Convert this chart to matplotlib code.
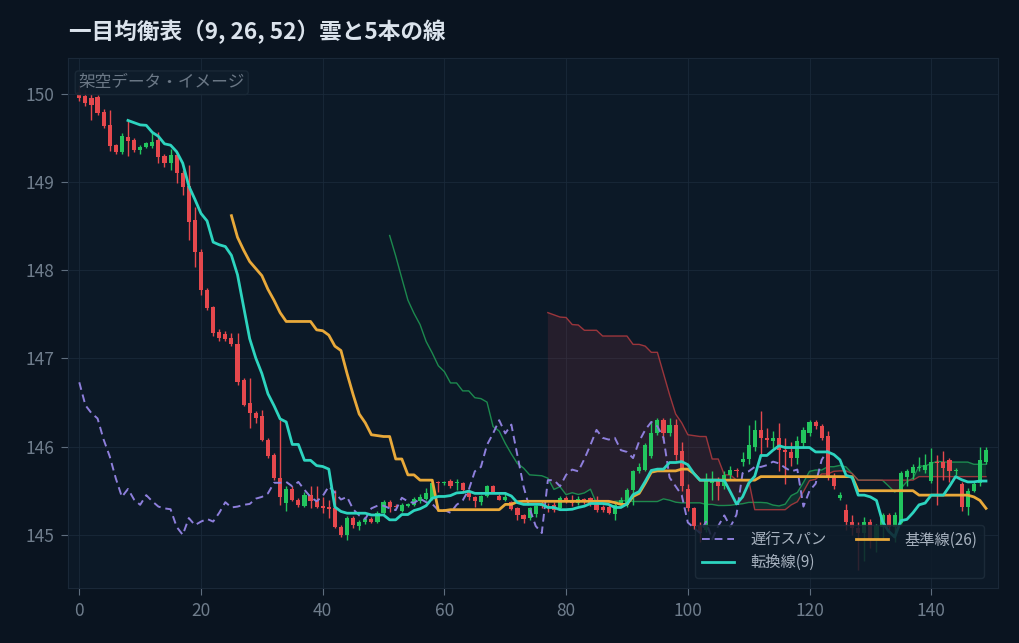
import numpy as np
import pandas as pd
import matplotlib
matplotlib.use('Agg')
import matplotlib.pyplot as plt

plt.rcParams['font.family'] = ['Noto Sans CJK JP', 'DejaVu Sans']

# ---- OHLC (架空データ) ----
opens = [150.02, 149.98, 149.95, 149.97, 149.80, 149.65, 149.42, 149.34, 149.51, 149.48,
         149.36, 149.40, 149.41, 149.48, 149.30, 149.22, 149.31, 149.10, 148.96, 148.57,
         148.21, 147.78, 147.58, 147.30, 147.28, 147.23, 147.17, 146.76, 146.49, 146.38,
         146.35, 146.08, 145.90, 145.64, 145.36, 145.52, 145.40, 145.33, 145.45, 145.40,
         145.33, 145.32, 145.30, 145.09, 145.00, 145.19, 145.10, 145.14, 145.18, 145.14,
         145.25, 145.37, 145.33, 145.27, 145.33, 145.34, 145.38, 145.41, 145.41, 145.60,
         145.59, 145.61, 145.59, 145.59, 145.49, 145.43, 145.37, 145.44, 145.55, 145.44,
         145.40, 145.37, 145.30, 145.23, 145.19, 145.24, 145.36, 145.33, 145.34, 145.30,
         145.42, 145.40, 145.36, 145.41, 145.42, 145.36, 145.32, 145.32, 145.24, 145.34,
         145.34, 145.51, 145.72, 145.74, 145.89, 146.15, 146.30, 146.15, 146.25, 145.95,
         145.52, 145.30, 145.10, 145.05, 145.59, 145.62, 145.55, 145.68, 145.74, 145.83,
         145.86, 146.00, 146.19, 146.10, 146.06, 146.10, 145.96, 145.94, 145.87, 146.04,
         146.15, 146.28, 146.23, 146.12, 145.65, 145.42, 145.28, 145.14, 145.08, 145.02,
         145.15, 144.95, 145.09, 145.22, 145.09, 145.13, 145.66, 145.70, 145.76, 145.74,
         145.61, 145.83, 145.83, 145.85, 145.72, 145.58, 145.32, 145.50, 145.59, 145.83]
highs = [150.10, 150.05, 150.00, 149.99, 149.83, 149.82, 149.43, 149.56, 149.70, 149.50,
         149.42, 149.46, 149.56, 149.57, 149.32, 149.38, 149.34, 149.14, 149.20, 148.72,
         148.24, 147.80, 147.60, 147.33, 147.31, 147.29, 147.29, 146.78, 146.78, 146.40,
         146.42, 146.10, 145.93, 146.30, 145.55, 145.55, 145.42, 145.48, 145.55, 145.55,
         145.43, 145.40, 145.51, 145.11, 145.21, 145.21, 145.17, 145.20, 145.20, 145.27,
         145.40, 145.40, 145.35, 145.36, 145.36, 145.43, 145.46, 145.53, 145.59, 145.61,
         145.61, 145.63, 145.63, 145.60, 145.51, 145.44, 145.45, 145.56, 145.56, 145.46,
         145.49, 145.38, 145.31, 145.24, 145.31, 145.34, 145.38, 145.36, 145.37, 145.44,
         145.44, 145.45, 145.44, 145.42, 145.43, 145.44, 145.34, 145.34, 145.36, 145.43,
         145.53, 145.74, 145.81, 146.04, 146.29, 146.32, 146.32, 146.32, 146.31, 146.05,
         145.58, 145.32, 145.15, 145.70, 145.72, 145.66, 145.72, 145.78, 145.76, 145.94,
         146.25, 146.30, 146.40, 146.21, 146.18, 146.27, 146.10, 146.05, 146.12, 146.22,
         146.30, 146.30, 146.26, 146.18, 145.70, 145.48, 145.35, 145.22, 145.15, 145.20,
         145.18, 145.12, 145.25, 145.25, 145.26, 145.72, 145.75, 145.80, 145.88, 145.92,
         145.98, 145.90, 145.95, 145.87, 145.76, 145.60, 145.53, 145.60, 146.00, 146.00]
lows = [149.92, 149.86, 149.71, 149.76, 149.62, 149.35, 149.32, 149.32, 149.30, 149.34,
        149.32, 149.39, 149.39, 149.22, 149.17, 149.14, 148.99, 148.86, 148.34, 148.04,
        147.72, 147.55, 147.26, 147.20, 147.20, 147.14, 146.70, 146.46, 146.21, 146.27,
        146.06, 145.87, 145.62, 145.34, 145.27, 145.38, 145.32, 145.31, 145.30, 145.30,
        145.25, 145.19, 145.08, 144.98, 144.94, 145.08, 145.06, 145.12, 145.13, 145.13,
        145.24, 145.26, 145.30, 145.26, 145.32, 145.33, 145.36, 145.40, 145.40, 145.48,
        145.57, 145.53, 145.51, 145.47, 145.40, 145.31, 145.34, 145.43, 145.47, 145.39,
        145.38, 145.28, 145.17, 145.13, 145.17, 145.20, 145.30, 145.26, 145.26, 145.28,
        145.36, 145.33, 145.34, 145.35, 145.33, 145.26, 145.26, 145.24, 145.17, 145.32,
        145.32, 145.34, 145.70, 145.72, 145.87, 146.13, 146.08, 146.12, 145.85, 145.50,
        145.27, 145.07, 144.92, 145.03, 145.40, 145.40, 145.52, 145.62, 145.66, 145.78,
        145.80, 145.95, 145.89, 146.00, 145.98, 145.72, 145.58, 145.78, 145.80, 146.00,
        146.12, 146.20, 146.08, 145.62, 145.52, 145.40, 145.05, 145.00, 144.60, 144.70,
        144.85, 144.80, 144.95, 145.05, 144.92, 145.12, 145.55, 145.63, 145.72, 145.70,
        145.59, 145.34, 145.62, 145.60, 145.68, 145.27, 145.22, 145.48, 145.55, 145.80]
closes = [149.95, 149.90, 149.88, 149.78, 149.64, 149.41, 149.34, 149.52, 149.47, 149.36,
          149.40, 149.44, 149.46, 149.29, 149.22, 149.31, 149.10, 148.94, 148.55, 148.21,
          147.78, 147.57, 147.29, 147.23, 147.22, 147.17, 146.73, 146.47, 146.38, 146.32,
          146.08, 145.89, 145.64, 145.43, 145.52, 145.40, 145.34, 145.45, 145.38, 145.32,
          145.30, 145.29, 145.09, 145.00, 145.19, 145.11, 145.15, 145.18, 145.15, 145.25,
          145.37, 145.31, 145.32, 145.34, 145.35, 145.41, 145.43, 145.47, 145.59, 145.59,
          145.60, 145.55, 145.60, 145.51, 145.43, 145.38, 145.44, 145.55, 145.48, 145.40,
          145.43, 145.29, 145.22, 145.18, 145.30, 145.33, 145.33, 145.30, 145.28, 145.42,
          145.38, 145.36, 145.41, 145.37, 145.35, 145.28, 145.28, 145.25, 145.34, 145.39,
          145.51, 145.72, 145.77, 146.02, 146.15, 146.30, 146.15, 146.25, 145.90, 145.55,
          145.30, 145.10, 145.02, 145.62, 145.62, 145.55, 145.68, 145.74, 145.72, 145.86,
          146.02, 146.19, 146.10, 146.08, 146.10, 145.96, 145.94, 145.87, 146.06, 146.19,
          146.28, 146.23, 146.10, 145.65, 145.55, 145.45, 145.14, 145.08, 145.02, 145.15,
          144.95, 145.10, 145.22, 145.09, 145.23, 145.70, 145.72, 145.77, 145.77, 145.79,
          145.83, 145.81, 145.76, 145.72, 145.74, 145.32, 145.50, 145.58, 145.85, 145.96]

TENKAN_N, KIJUN_N, SENKOU_N = 9, 26, 52

df = pd.DataFrame({'open': opens, 'high': highs, 'low': lows, 'close': closes})


def mid(n):
    return (df['high'].rolling(n).max() + df['low'].rolling(n).min()) / 2


tenkan = mid(TENKAN_N)
kijun = mid(KIJUN_N)
senkou_a = ((tenkan + kijun) / 2).shift(KIJUN_N)
senkou_b = mid(SENKOU_N).shift(KIJUN_N)
chikou = df['close'].shift(-KIJUN_N)
x = np.arange(len(df))

BG = '#0a1420'
AX_BG = '#0c1927'
UP, DOWN = '#22c55e', '#e5484d'

fig = plt.figure(figsize=(10.2, 6.43), dpi=100, facecolor=BG)
ax = fig.add_axes([0.067, 0.086, 0.911, 0.824])
ax.set_facecolor(AX_BG)

# ─── cloud ──────────────────────────────────────────────
a = senkou_a.values
b = senkou_b.values
ax.fill_between(x, a, b, where=a >= b, color='#1f9d55', alpha=0.18,
                interpolate=True, linewidth=0, zorder=1)
ax.fill_between(x, a, b, where=a < b, color='#9b3a46', alpha=0.18,
                interpolate=True, linewidth=0, zorder=1)
ax.plot(x, a, color='#1f9d55', lw=1.0, alpha=0.85, zorder=1.5, label='_senkou_a')
ax.plot(x, b, color='#b23a3f', lw=1.0, alpha=0.85, zorder=1.5, label='_senkou_b')

# ─── candles ────────────────────────────────────────────
o = df['open'].values
c = df['close'].values
colors = np.where(c >= o, UP, DOWN)
ax.vlines(x, df['low'], df['high'], colors=colors, linewidth=1.0, zorder=2)
body_h = np.maximum(np.abs(c - o), 0.012)
ax.bar(x, body_h, bottom=np.minimum(o, c), width=0.68, color=colors,
       edgecolor='none', zorder=2.1)

# ─── lines ──────────────────────────────────────────────
ax.plot(x, chikou, color='#8e7fdc', lw=1.4, ls=(0, (4, 2.5)), zorder=3, label='遅行スパン')
ax.plot(x, tenkan, color='#2dd4bf', lw=2.0, zorder=3.2, label='転換線(9)')
ax.plot(x, kijun, color='#e9a93a', lw=2.0, zorder=3.1, label='基準線(26)')

ax.set_xlim(-1.8, 150.9)
ax.set_ylim(144.40, 150.41)
ax.set_xticks(np.arange(0, 141, 20))
ax.set_yticks(np.arange(145, 151, 1))
ax.grid(color='#1a2a3a', linewidth=0.8, alpha=0.8)
ax.set_axisbelow(True)
ax.tick_params(colors='#5f6e7e', labelcolor='#6f7d8c', labelsize=12.5,
               length=5, pad=5)
for sp in ax.spines.values():
    sp.set_color('#1a2838')

ax.text(0.011, 0.953, '架空データ・イメージ', transform=ax.transAxes,
        fontsize=12, color='#6b7886', va='center', ha='left', zorder=5,
        bbox=dict(boxstyle='round,pad=0.2', facecolor='#0f1d2b',
                  edgecolor='#1a2937', alpha=0.95))

leg = ax.legend(loc='lower right', ncol=2, fontsize=11, frameon=True,
                facecolor='#0e1c2a', edgecolor='#1e2d3c', framealpha=0.85,
                labelcolor='#a7b2bf', borderpad=0.45, columnspacing=1.9,
                handlelength=2.1, handletextpad=1.1, labelspacing=0.35,
                bbox_to_anchor=(0.994, 0.004))
leg.set_zorder(6)

fig.text(0.068, 0.95, '一目均衡表（9, 26, 52）雲と5本の線', fontsize=16.3,
         fontweight='bold', color='#dbe3ec', ha='left', va='center')

fig.savefig('out.png', dpi=100, facecolor=BG)
